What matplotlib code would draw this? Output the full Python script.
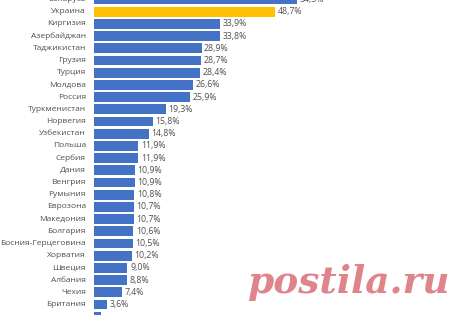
import numpy as np
import matplotlib.pyplot as plt

plt.rcParams['font.family'] = ['Open Sans', 'DejaVu Sans']

countries = ['Беларусь', 'Украина', 'Киргизия', 'Азербайджан', 'Таджикистан',
             'Грузия', 'Турция', 'Молдова', 'Россия', 'Туркменистан', 'Норвегия',
             'Узбекистан', 'Польша', 'Сербия', 'Дания', 'Венгрия', 'Румыния',
             'Еврозона', 'Македония', 'Болгария', 'Босния-Герцеговина',
             'Хорватия', 'Швеция', 'Албания', 'Чехия', 'Британия', '']
values = [54.5, 48.7, 33.9, 33.8, 28.9, 28.7, 28.4, 26.6, 25.9, 19.3, 15.8,
          14.8, 11.9, 11.9, 10.9, 10.9, 10.8, 10.7, 10.7, 10.6, 10.5,
          10.2, 9.0, 8.8, 7.4, 3.6, 1.9]
highlight = 'Украина'

blue = '#4472C4'
yellow = '#FFC000'
text_color = '#505050'

fig = plt.figure(figsize=(4.6, 3.15), dpi=100)
ax = fig.add_axes([94 / 460, 0, 366 / 460, 1])

y = np.arange(len(countries))
colors = [yellow if c == highlight else blue for c in countries]
ax.barh(y, values, height=0.8, color=colors)

# the last row is cut off at the bottom edge, its labels are not visible
for yi, v, c in zip(y, values, countries):
    if not c:
        continue
    ax.text(v + 0.7, yi, f'{v:.1f}%'.replace('.', ','), va='center', ha='left',
            fontsize=6.3, color=text_color)
    ax.text(-2.2, yi, c, va='center', ha='right', fontsize=6.0,
            color=text_color, clip_on=False)

ax.set_xlim(0, 366 / 3.72)
ax.set_ylim(25.86, 0.041)
ax.axis('off')

fig.text(247 / 460, 1 - 293 / 315, 'postila.ru', fontsize=27, color='#E0848C',
         family='DejaVu Serif', style='italic', fontweight='bold', ha='left',
         va='baseline')

fig.savefig('out.png', dpi=100)
